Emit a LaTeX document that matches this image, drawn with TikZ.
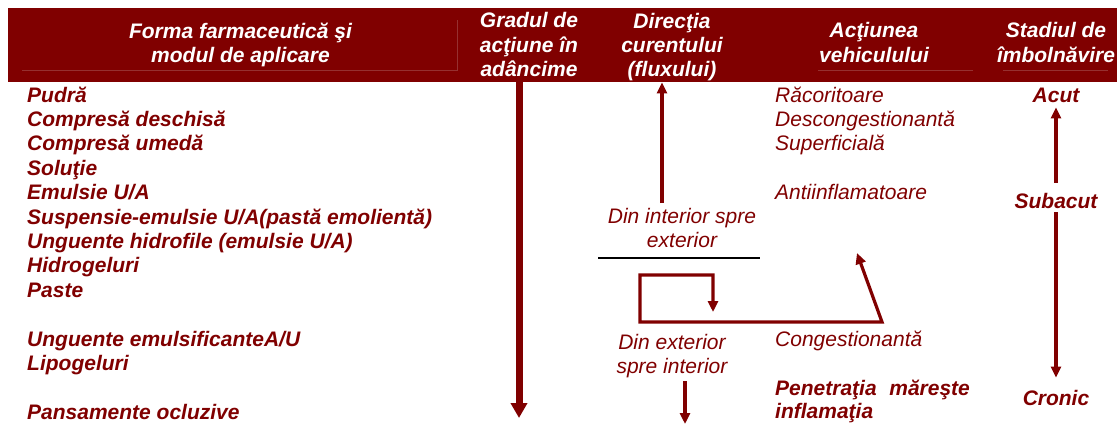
\documentclass[tikz,border=0pt]{standalone}
\usepackage{fontspec}
\setmainfont{Liberation Sans}
\usetikzlibrary{arrows.meta}
\definecolor{maroon}{RGB}{128,0,0}
\definecolor{faint}{RGB}{150,48,48}

\tikzset{
  form/.style={anchor=base west, inner sep=0pt, text=maroon,
    font=\fontsize{21}{24}\selectfont\bfseries\itshape},
  effect/.style={anchor=base west, inner sep=0pt, text=maroon,
    font=\fontsize{21}{24}\selectfont\itshape},
  flow/.style={align=center, inner sep=0pt, text=maroon,
    font=\fontsize{21}{23.5}\selectfont\itshape},
  stage/.style={anchor=base, inner sep=0pt, text=maroon,
    font=\fontsize{21}{24}\selectfont\bfseries\itshape},
  head/.style={align=center, inner sep=0pt, text=white,
    font=\fontsize{21}{24.4}\selectfont\bfseries\itshape},
  deep/.style={draw=maroon, line width=7pt, -{Triangle[length=15pt,width=16pt]}},
  current/.style={draw=maroon, line width=3.2pt, -{Triangle[length=11pt,width=10pt]}},
}

\begin{document}
\begin{tikzpicture}[x=1pt, y=-1pt]

\useasboundingbox (0,0) rectangle (1117,424);

% header band
\node[fill=maroon, draw=none, anchor=north west, inner sep=0pt,
  minimum width=1109pt, minimum height=74pt] (band) at (8,8) {};
\draw[faint, line width=0.6pt] (22,70) -- (457,70) -- (457,20);
\draw[faint, line width=0.6pt] (818,70) -- (973,70);
\draw[faint, line width=0.6pt] (1003,70) -- (1108,70);

\node[head] (hforma) at (240.5,44.8) {Forma farmaceutică şi\\modul de aplicare};
\node[head] (hgrad) at (529,44.8) {Gradul de\\acţiune în\\adâncime};
\node[head] (hdir) at (672,47) {Direcţia\\curentului\\(fluxului)};
\node[head] (hact) at (874,42.6) {Acţiunea\\vehiculului};
\node[head] (hstad) at (1056,42.6) {Stadiul de\\îmbolnăvire};

% forme farmaceutice
\foreach \n/\y/\t in {pudra/102/{Pudră}, cdesc/126/{Compresă deschisă},
    cumed/150/{Compresă umedă}, sol/175/{Soluţie}, emuls/199/{Emulsie U/A},
    susp/224/{Suspensie-emulsie U/A(pastă emolientă)},
    ughid/248/{Unguente hidrofile (emulsie U/A)}, hidro/272/{Hidrogeluri},
    paste/297/{Paste}, ugemul/346/{Unguente emulsificanteA/U},
    lipo/370/{Lipogeluri}, pans/419/{Pansamente ocluzive}}
  \node[form] (\n) at (27,\y) {\t};

% gradul de actiune
\coordinate (gbottom) at (519,418);
\draw[deep] (gbottom |- band.south) -- (gbottom);

% directia curentului
\node[flow] (inext) at (682,228) {Din interior spre\\exterior};
\coordinate (inup) at (662,203);
\draw[current] (inup) -- (inup |- band.south);
\coordinate (sepl) at (598,258);
\coordinate (sepr) at (760,258);
\draw[line width=1.6pt] (sepl) -- (sepr);

\coordinate (lpin) at (713,312);
\coordinate (lptop) at (713,275);
\coordinate (lpleft) at (640,275);
\coordinate (lpbot) at (640,322);
\coordinate (lpright) at (882,322);
\coordinate (lpup) at (857,253);
\draw[current, {Triangle[length=11pt,width=10pt]}-{Triangle[length=11pt,width=10pt]}, line join=miter]
  (lpup) -- (lpright) -- (lpbot) -- (lpleft) -- (lptop) -- (lpin);

\node[flow] (extin) at (672,356) {Din exterior\\spre interior};
\coordinate (exdown) at (685,381);
\coordinate (exend) at (685,424);
\draw[current] (exdown) -- (exend);

% actiunea vehiculului
\node[effect] (racor) at (775,102) {Răcoritoare};
\node[effect] (decong) at (775,126) {Descongestionantă};
\node[effect] (superf) at (775,150) {Superficială};
\node[effect] (antiinf) at (775,199) {Antiinflamatoare};
\node[effect] (cong) at (775,346) {Congestionantă};
\node[form] (penet) at (775,395) {Penetraţia\hspace{0.6em}măreşte};
\node[form] (inflam) at (775,418) {inflamaţia};

% stadiul de imbolnavire
\node[stage] (acut) at (1056,102) {Acut};
\node[stage] (subacut) at (1056,208) {Subacut};
\node[stage] (cronic) at (1056,405) {Cronic};
\draw[current, shorten >=5pt, shorten <=10pt] (subacut.north -| acut) -- (acut.south);
\draw[current, shorten >=12pt, shorten <=4pt] (subacut.south) -- (cronic.north -| subacut);

\end{tikzpicture}
\end{document}
